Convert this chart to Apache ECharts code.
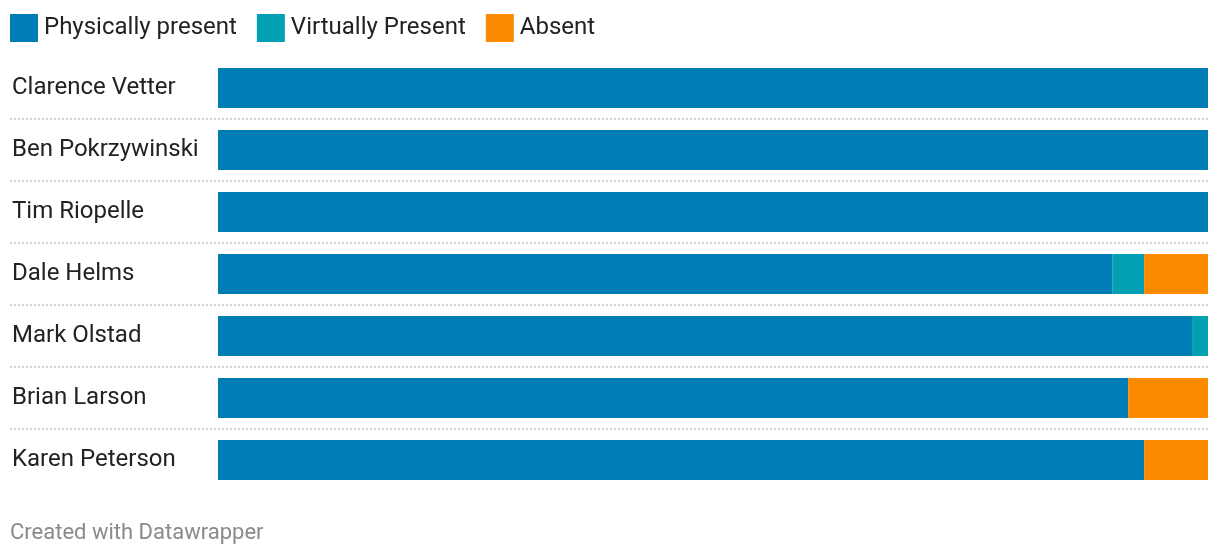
<!DOCTYPE html>
<html>
<head>
<meta charset="utf-8">
<script src="https://cdn.jsdelivr.net/npm/echarts@6/dist/echarts.min.js"></script>
<style>
html,body{margin:0;padding:0;background:#fff;}
#chart{width:1220px;height:558px;}
</style>
</head>
<body>
<div id="chart"></div>
<script>
const names = ["Clarence Vetter","Ben Pokrzywinski","Tim Riopelle","Dale Helms","Mark Olstad","Brian Larson","Karen Peterson"];
const physical = [62,62,62,56,61,57,58];
const virtualP = [0,0,0,2,1,0,0];
const absent = [0,0,0,4,0,5,4];
const seriesNames = ["Physically present","Virtually Present","Absent"];
const colors = ["#007db4","#03a0b4","#fb8a00"];
const total = 62;

const chart = echarts.init(document.getElementById('chart'));
const font = 'Roboto';
const mk = (name, data, i) => ({
  name, type:'bar', stack:'a', data, xAxisIndex:1, yAxisIndex:1,
  barWidth:40, itemStyle:{color:colors[i]}, emphasis:{disabled:true}
});
chart.setOption({
  animation:false,
  textStyle:{fontFamily:font},
  legend:{
    left:5, top:9, itemWidth:28, itemHeight:28, itemGap:20,
    icon:'rect',
    textStyle:{fontFamily:font, fontSize:24, color:'#222', padding:[0,0,0,1]},
    data:seriesNames
  },
  grid:[
    {left:10, right:12, top:57, height:434},
    {left:218, right:12, top:57, height:434}
  ],
  xAxis:[
    {gridIndex:0, type:'value', min:0, max:1, show:false},
    {gridIndex:1, type:'value', min:0, max:total, show:false}
  ],
  yAxis:[
    {gridIndex:0, type:'category', inverse:true, data:names,
     axisLine:{show:false}, axisTick:{show:false}, axisLabel:{show:false},
     splitLine:{show:true, showMinLine:false, showMaxLine:false,
       lineStyle:{color:'#d4d4d4', width:2, type:[2,2]}}},
    {gridIndex:1, type:'category', inverse:true, data:names,
     axisLine:{show:false}, axisTick:{show:false}, splitLine:{show:false},
     axisLabel:{align:'left', margin:206, fontFamily:font, fontSize:24, color:'#222', padding:[5,0,0,0]}}
  ],
  series:[mk(seriesNames[0],physical,0), mk(seriesNames[1],virtualP,1), mk(seriesNames[2],absent,2)],
  graphic:[{type:'text', left:10, top:522, style:{text:'Created with Datawrapper', fontFamily:font, fontSize:22, fill:'#8a8a8a'}}]
});
</script>
</body>
</html>
